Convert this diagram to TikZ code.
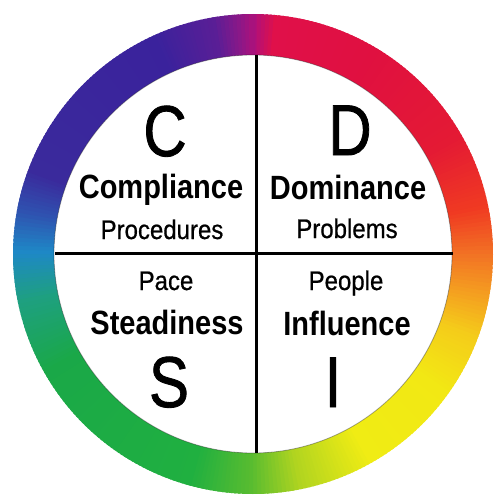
\documentclass[tikz,border=0pt]{standalone}
\usepackage{fontspec}
\setmainfont{Liberation Sans}
\newfontfamily\medfont{Liberation Sans}[FakeBold=0.7]
\newfontfamily\letterfont{Liberation Sans}[FakeBold=1.2]
\definecolor{rA}{HTML}{B0107A}
\definecolor{rB}{HTML}{E0104A}
\definecolor{rC}{HTML}{E01040}
\definecolor{rD}{HTML}{E41A34}
\definecolor{rE}{HTML}{F03A22}
\definecolor{rF}{HTML}{F27424}
\definecolor{rG}{HTML}{F4A020}
\definecolor{rH}{HTML}{F4CC1A}
\definecolor{rI}{HTML}{F2E814}
\definecolor{rJ}{HTML}{F0EC14}
\definecolor{rK}{HTML}{B0D420}
\definecolor{rL}{HTML}{58BC30}
\definecolor{rM}{HTML}{20B040}
\definecolor{rN}{HTML}{1AA848}
\definecolor{rO}{HTML}{1EA080}
\definecolor{rP}{HTML}{1E88C6}
\definecolor{rQ}{HTML}{2F52B0}
\definecolor{rR}{HTML}{3A2A9C}
\definecolor{rS}{HTML}{3A229C}
\definecolor{rT}{HTML}{5A1E96}
\definecolor{rU}{HTML}{8A1888}
\tikzset{
  bigletter/.style={font=\letterfont\fontsize{60}{60}\selectfont, anchor=base, inner sep=0pt},
  boldword/.style={font=\bfseries\fontsize{29}{29}\selectfont, anchor=base, inner sep=0pt},
  smallword/.style={font=\medfont\fontsize{24}{24}\selectfont, anchor=base, inner sep=0pt},
  divider/.style={line width=3pt, black}
}
\begin{document}
\begin{tikzpicture}[x=1pt,y=-1pt]
\useasboundingbox (0,0) rectangle (493,497);
\fill[white] (0,0) rectangle (493,497);
\begin{scope}[shift={(253,254)}]
\foreach \ta/\ca/\tb/\cb in {0/rA/5/rB, 5/rB/30/rC, 30/rC/60/rD, 60/rD/78/rE, 78/rE/90/rF, 90/rF/100/rG, 100/rG/110/rH, 110/rH/125/rI, 125/rI/150/rJ, 150/rJ/168/rK, 168/rK/180/rL, 180/rL/195/rM, 195/rM/240/rN, 240/rN/258/rO, 258/rO/270/rP, 270/rP/280/rQ, 280/rQ/290/rR, 290/rR/335/rS, 335/rS/350/rT, 350/rT/356/rU, 356/rU/360/rA}{
  \pgfmathtruncatemacro\tend{\tb-1}
  \foreach \t in {\ta,...,\tend}{
    \pgfmathtruncatemacro\p{round(100*(\t-\ta)/(\tb-\ta))}
    \pgfmathsetmacro\aone{\t-90}
    \pgfmathsetmacro\atwo{\t-90+1.6}
    \fill[\cb!\p!\ca] (\aone:196) -- (\aone:240) -- (\atwo:240) -- (\atwo:196) -- cycle;
  }
}
\end{scope}
\fill[white] (253,254) circle[radius=199pt];
\draw[black, opacity=0.35, line width=0.8pt] (253,254) circle[radius=199pt];
% dividers
\coordinate (vtop) at (256,55);
\coordinate (vbot) at (256,453);
\coordinate (hlft) at (55,253);
\coordinate (hrgt) at (453,253);
\draw[divider] (vtop) -- (vbot);
\draw[divider] (hlft) -- (hrgt);
% texts
\node[bigletter] (C) at (165,156) {\scalebox{1}[1.2]{C}};
\node[bigletter] (D) at (350,155) {\scalebox{1}[1.2]{D}};
\node[bigletter] (S) at (169,407) {\scalebox{1}[1.2]{S}};
\node[bigletter] (I) at (333,407) {\scalebox{1}[1.2]{I}};
\node[boldword] (compl) at (161,198) {\scalebox{1}[1.16]{Compliance}};
\node[boldword] (domin) at (348,199) {\scalebox{1}[1.16]{Dominance}};
\node[boldword] (stead) at (167,334) {\scalebox{1}[1.16]{Steadiness}};
\node[boldword] (influ) at (347,335) {\scalebox{1}[1.16]{Influence}};
\node[smallword] (proc) at (162,239) {\scalebox{1}[1.12]{Procedures}};
\node[smallword] (prob) at (347,238) {\scalebox{1}[1.12]{Problems}};
\node[smallword] (pace) at (166,290) {\scalebox{1}[1.12]{Pace}};
\node[smallword] (peop) at (346,290) {\scalebox{1}[1.12]{People}};
\end{tikzpicture}
\end{document}
